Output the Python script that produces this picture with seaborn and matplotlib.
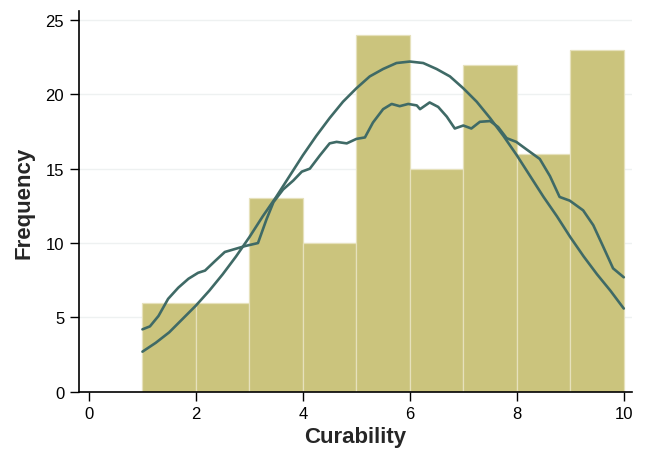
"""Curability histogram with fitted normal curve and smoothed density."""

import matplotlib
matplotlib.use("Agg")
import matplotlib.pyplot as plt
import seaborn as sns

# histogram bins (width 1) and counts
bin_edges = [1, 2, 3, 4, 5, 6, 7, 8, 9, 10]
counts = [6, 6, 13, 10, 24, 15, 22, 16, 23]

# fitted normal curve, scaled to frequency
normal_x = [1.0, 1.25, 1.5, 1.75, 2.0, 2.25, 2.5, 2.75, 3.0, 3.25, 3.5, 3.75,
            4.0, 4.25, 4.5, 4.75, 5.0, 5.25, 5.5, 5.75, 6.0, 6.25, 6.5, 6.75,
            7.0, 7.25, 7.5, 7.75, 8.0, 8.25, 8.5, 8.75, 9.0, 9.25, 9.5, 9.75, 10.0]
normal_y = [2.7, 3.3, 4.0, 4.9, 5.8, 6.8, 7.9, 9.1, 10.4, 11.8, 13.1, 14.5,
            15.9, 17.2, 18.4, 19.5, 20.4, 21.2, 21.7, 22.1, 22.2, 22.1, 21.7, 21.2,
            20.4, 19.5, 18.4, 17.2, 15.9, 14.5, 13.1, 11.8, 10.4, 9.1, 7.9, 6.8, 5.6]

# smoothed density curve, scaled to frequency
kde_x = [1.0, 1.14, 1.30, 1.48, 1.67, 1.86, 2.04, 2.17, 2.36, 2.54, 2.73, 2.92,
         3.16, 3.32, 3.45, 3.63, 3.82, 3.98, 4.13, 4.32, 4.50, 4.63, 4.82, 5.0,
         5.16, 5.31, 5.50, 5.66, 5.81, 5.97, 6.13, 6.19, 6.37, 6.53, 6.69, 6.84,
         7.0, 7.15, 7.31, 7.50, 7.65, 7.81, 7.99, 8.18, 8.43, 8.62, 8.80, 8.99,
         9.24, 9.43, 9.61, 9.80, 10.0]
kde_y = [4.2, 4.4, 5.1, 6.25, 7.0, 7.6, 8.0, 8.15, 8.8, 9.4, 9.6, 9.8,
         10.0, 11.6, 12.75, 13.6, 14.2, 14.8, 15.0, 15.9, 16.7, 16.8, 16.7, 17.0,
         17.1, 18.1, 19.0, 19.35, 19.2, 19.35, 19.25, 19.0, 19.45, 19.15, 18.5, 17.7,
         17.9, 17.7, 18.15, 18.2, 17.8, 17.05, 16.8, 16.3, 15.65, 14.5, 13.1, 12.85,
         12.2, 11.2, 9.8, 8.3, 7.7]

BAR_COLOR = "#CBC47D"
LINE_COLOR = "#3F6A66"

sns.set_theme(style="white")
plt.rcParams["font.family"] = ["Liberation Sans", "DejaVu Sans"]

fig = plt.figure(figsize=(6.46, 4.6), dpi=100)
ax = fig.add_axes([0.122, 0.146, 0.856, 0.828])

bin_centers = [(a + b) / 2 for a, b in zip(bin_edges[:-1], bin_edges[1:])]
sns.histplot(x=bin_centers, weights=counts, bins=bin_edges, color=BAR_COLOR,
             alpha=1, edgecolor="#E6E1BC", linewidth=0.9, ax=ax, zorder=2)
sns.lineplot(x=normal_x, y=normal_y, color=LINE_COLOR, linewidth=1.9, ax=ax,
             zorder=3, sort=False)
sns.lineplot(x=kde_x, y=kde_y, color=LINE_COLOR, linewidth=1.9, ax=ax,
             zorder=3, sort=False)

ax.set_xlim(-0.19, 10.15)
ax.set_ylim(0, 25.6)
ax.set_xticks([0, 2, 4, 6, 8, 10])
ax.set_yticks([0, 5, 10, 15, 20, 25])
ax.yaxis.grid(True, color="#EEF1F1", linewidth=1)
ax.set_axisbelow(True)

for side in ["top", "right"]:
    ax.spines[side].set_visible(False)
for side in ["left", "bottom"]:
    ax.spines[side].set_color("black")
    ax.spines[side].set_linewidth(1.2)

ax.tick_params(axis="both", which="major", direction="out", length=6.5, width=1,
               color="black", labelsize=12, labelcolor="black", pad=4,
               left=True, bottom=True)
ax.set_xlabel("Curability", fontsize=16, fontweight="bold", labelpad=3)
ax.set_ylabel("Frequency", fontsize=16, fontweight="bold", labelpad=8)

fig.savefig("out.png", dpi=100)
plt.close(fig)
